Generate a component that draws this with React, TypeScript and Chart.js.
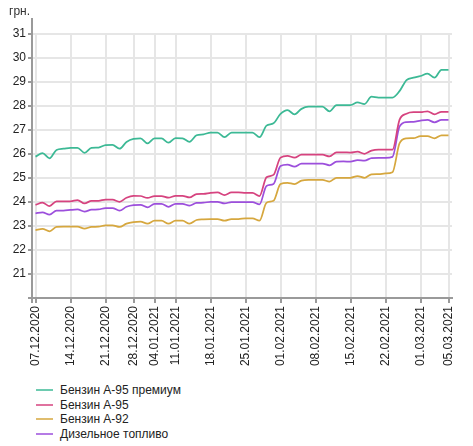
import React, { useEffect, useRef } from 'react';
import { Chart, registerables } from 'chart.js';

Chart.register(...registerables);

const DATES = [
  '07.12.2020', '08.12.2020', '09.12.2020', '10.12.2020', '11.12.2020',
  '14.12.2020', '15.12.2020', '16.12.2020', '17.12.2020', '18.12.2020',
  '21.12.2020', '22.12.2020', '23.12.2020', '24.12.2020',
  '28.12.2020', '29.12.2020', '30.12.2020',
  '04.01.2021', '05.01.2021', '06.01.2021',
  '11.01.2021', '12.01.2021', '13.01.2021', '14.01.2021', '15.01.2021',
  '18.01.2021', '19.01.2021', '20.01.2021', '21.01.2021', '22.01.2021',
  '25.01.2021', '26.01.2021', '27.01.2021', '28.01.2021', '29.01.2021',
  '01.02.2021', '02.02.2021', '03.02.2021', '04.02.2021', '05.02.2021',
  '08.02.2021', '09.02.2021', '10.02.2021', '11.02.2021', '12.02.2021',
  '15.02.2021', '16.02.2021', '17.02.2021', '18.02.2021', '19.02.2021',
  '22.02.2021', '23.02.2021', '24.02.2021', '25.02.2021', '26.02.2021',
  '01.03.2021', '02.03.2021', '03.03.2021', '04.03.2021', '05.03.2021',
];

const TICK_DATES = [
  '07.12.2020', '14.12.2020', '21.12.2020', '28.12.2020', '04.01.2021',
  '11.01.2021', '18.01.2021', '25.01.2021', '01.02.2021', '08.02.2021',
  '15.02.2021', '22.02.2021', '01.03.2021', '05.03.2021',
];

const A95_PREMIUM = [
  25.89, 26.04, 25.82, 26.17, 26.22, 26.26, 26.26, 26.05, 26.26, 26.27,
  26.37, 26.38, 26.22, 26.5, 26.63, 26.65, 26.44, 26.65, 26.65, 26.47,
  26.66, 26.65, 26.51, 26.78, 26.82, 26.89, 26.89, 26.7, 26.89, 26.89,
  26.89, 26.89, 26.7, 27.18, 27.28, 27.67, 27.83, 27.65, 27.88, 27.97,
  27.97, 27.97, 27.78, 28.04, 28.04, 28.04, 28.15, 28.08, 28.39, 28.35,
  28.35, 28.35, 28.62, 29.08, 29.18, 29.25, 29.35, 29.18, 29.51, 29.51,
];

const A95 = [
  23.88, 23.97, 23.83, 24.03, 24.03, 24.03, 24.08, 23.94, 24.05, 24.05,
  24.1, 24.1, 24.01, 24.18, 24.26, 24.25, 24.17, 24.25, 24.25, 24.18,
  24.26, 24.26, 24.19, 24.33, 24.34, 24.38, 24.4, 24.29, 24.4, 24.4,
  24.38, 24.38, 24.25, 25.03, 25.13, 25.85, 25.92, 25.85, 25.97, 25.97,
  25.97, 25.97, 25.9, 26.07, 26.07, 26.06, 26.1, 26.01, 26.14, 26.18,
  26.18, 26.18, 27.42, 27.68, 27.74, 27.74, 27.78, 27.65, 27.76, 27.76,
];

const A92 = [
  22.83, 22.88, 22.78, 22.96, 22.97, 22.97, 22.97, 22.89, 22.96, 22.97,
  23.03, 23.03, 22.96, 23.1, 23.16, 23.18, 23.1, 23.22, 23.22, 23.1,
  23.22, 23.22, 23.1, 23.25, 23.28, 23.29, 23.29, 23.22, 23.29, 23.29,
  23.32, 23.32, 23.22, 23.97, 24.05, 24.75, 24.8, 24.75, 24.89, 24.92,
  24.92, 24.92, 24.85, 25.01, 25.01, 25.01, 25.08, 25.01, 25.15, 25.16,
  25.19, 25.24, 26.44, 26.65, 26.66, 26.74, 26.74, 26.65, 26.78, 26.78,
];

const DIESEL = [
  23.53, 23.57, 23.47, 23.64, 23.64, 23.67, 23.69, 23.6, 23.68, 23.69,
  23.75, 23.75, 23.64, 23.8, 23.87, 23.88, 23.78, 23.92, 23.92, 23.8,
  23.92, 23.92, 23.85, 23.96, 23.97, 24.01, 24.01, 23.94, 24.0, 24.0,
  24.0, 24.0, 23.9, 24.67, 24.75, 25.5, 25.56, 25.47, 25.6, 25.6,
  25.6, 25.6, 25.53, 25.68, 25.69, 25.68, 25.74, 25.72, 25.83, 25.84,
  25.84, 25.88, 27.14, 27.33, 27.34, 27.39, 27.42, 27.32, 27.42, 27.42,
];

const SERIES_NAMES = ['Бензин А-95 премиум', 'Бензин А-95', 'Бензин А-92', 'Дизельное топливо'];
const SERIES_COLORS = ['#3cb995', '#d6437f', '#d6a73e', '#9c4fdc'];
const SERIES_VALUES = [A95_PREMIUM, A95, A92, DIESEL];

const FONT_FAMILY = 'Arial, "Liberation Sans", sans-serif';
const TEXT_COLOR = '#222';
const GRID_COLOR = '#e6e6e6';
const AXIS_COLOR = '#9a9a9a';

const TICK_INDEXES = TICK_DATES.map((d) => DATES.indexOf(d));

const axisExtension = {
  id: 'axisExtension',
  afterDraw(chart: any) {
    const { ctx, chartArea } = chart;
    ctx.save();
    ctx.strokeStyle = AXIS_COLOR;
    ctx.lineWidth = 2;
    ctx.beginPath();
    ctx.moveTo(chartArea.left, chartArea.top - 16);
    ctx.lineTo(chartArea.left, chartArea.bottom + 5);
    ctx.stroke();
    ctx.restore();
  },
};

export default function App() {
  const canvasRef = useRef<HTMLCanvasElement>(null);

  useEffect(() => {
    if (!canvasRef.current) return;
    const chart = new Chart(canvasRef.current, {
      type: 'line',
      data: {
        datasets: SERIES_VALUES.map((vals, k) => ({
          label: SERIES_NAMES[k],
          data: vals.map((y, i) => ({ x: i, y })),
          borderColor: SERIES_COLORS[k],
          backgroundColor: SERIES_COLORS[k],
          borderWidth: 1.75,
          pointRadius: 0,
          pointHoverRadius: 0,
          cubicInterpolationMode: 'monotone',
          fill: false,
        })),
      },
      options: {
        animation: false,
        responsive: true,
        maintainAspectRatio: false,
        layout: { padding: { top: 34, right: 21, left: 0, bottom: 0 } },
        plugins: {
          legend: { display: false },
          tooltip: { enabled: false },
          title: { display: false },
        },
        scales: {
          x: {
            type: 'linear',
            min: -0.5,
            max: DATES.length - 0.5,
            grid: {
              color: GRID_COLOR,
              tickColor: AXIS_COLOR,
              lineWidth: 2,
              tickWidth: 2,
              tickLength: 5,
            },
            border: { color: AXIS_COLOR, width: 2 },
            afterBuildTicks: (s: any) => {
              s.ticks = TICK_INDEXES.map((v) => ({ value: v }));
            },
            ticks: {
              autoSkip: false,
              minRotation: 90,
              maxRotation: 90,
              padding: 3,
              color: TEXT_COLOR,
              font: { family: FONT_FAMILY, size: 12 },
              callback: (v: any) => DATES[v] ?? '',
            },
            afterFit: (s: any) => {
              s.height = 78;
            },
          },
          y: {
            min: 20,
            max: 31,
            grid: {
              color: GRID_COLOR,
              tickColor: AXIS_COLOR,
              lineWidth: 2,
              tickWidth: 2,
              tickLength: 4,
            },
            border: { color: AXIS_COLOR, width: 2 },
            ticks: {
              stepSize: 1,
              padding: 2,
              color: TEXT_COLOR,
              font: { family: FONT_FAMILY, size: 12 },
              callback: (v: any) => (v === 20 ? '' : String(v)),
            },
            afterFit: (s: any) => {
              s.width = 32;
            },
          },
        },
      },
      plugins: [axisExtension],
    } as any);
    return () => chart.destroy();
  }, []);

  return (
    <div style={{ position: 'absolute', left: 0, top: 0, width: 473, height: 446, fontFamily: FONT_FAMILY, background: '#fff' }}>
      <div style={{ position: 'absolute', left: 0, top: 0, width: 473, height: 376 }}>
        <canvas ref={canvasRef} />
      </div>
      <div style={{ position: 'absolute', left: 9, top: 4, fontSize: 12, color: '#333' }}>грн.</div>
      <div style={{ position: 'absolute', left: 36, top: 383 }}>
        {SERIES_NAMES.map((name, k) => (
          <div key={name} style={{ display: 'flex', alignItems: 'center', height: 14.5, fontSize: 12, color: TEXT_COLOR }}>
            <span style={{ display: 'inline-block', width: 17, height: 2, background: SERIES_COLORS[k], opacity: 0.75, marginRight: 7 }} />
            <span>{name}</span>
          </div>
        ))}
      </div>
    </div>
  );
}
